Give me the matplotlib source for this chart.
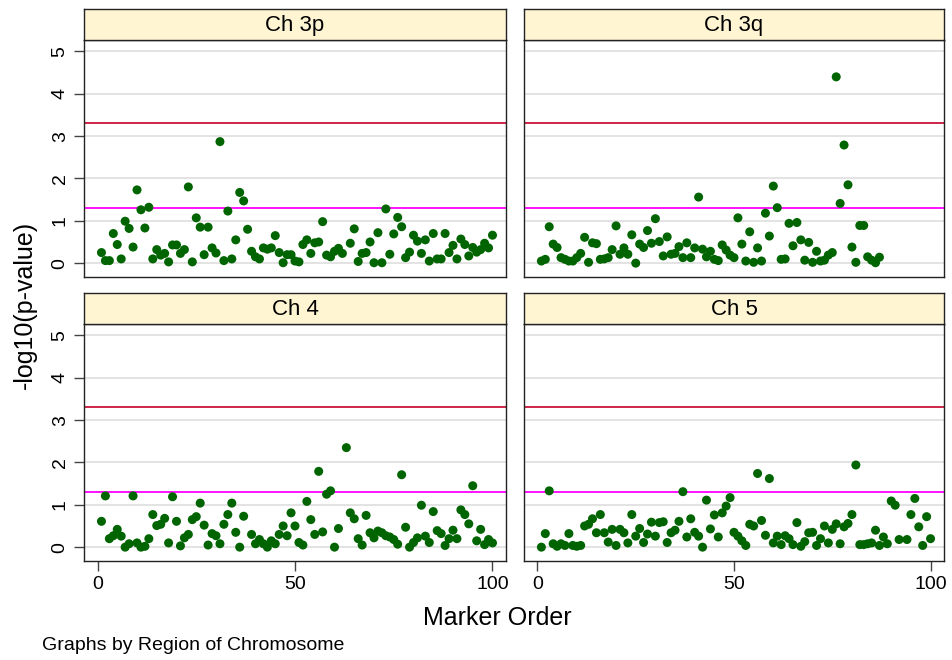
import numpy as np
import matplotlib.pyplot as plt

# -log10(p-value) per marker, nan = not visible
ch3p = [0.25, 0.06, 0.06, 0.70, 0.44, 0.10, 0.99, 0.82, 0.38, 1.73,
        1.26, 0.83, 1.32, 0.10, 0.32, 0.19, 0.23, 0.03, 0.43, 0.43,
        0.23, 0.32, 1.80, 0.03, 1.07, 0.85, 0.20, 0.85, 0.36, 0.24,
        2.87, 0.06, 1.23, 0.10, 0.55, 1.67, 1.47, 0.80, 0.28, 0.15,
        0.10, 0.36, 0.33, 0.36, 0.65, 0.25, 0.01, 0.20, 0.20, 0.05,
        0.03, 0.44, 0.55, 0.23, 0.48, 0.50, 0.98, 0.19, 0.15, 0.28,
        0.35, 0.23, np.nan, 0.47, 0.81, 0.04, 0.23, 0.25, 0.50, 0.01,
        0.72, 0.01, 1.28, 0.21, 0.69, 1.08, 0.86, 0.13, 0.26, 0.66,
        0.52, 0.23, 0.55, 0.05, 0.70, 0.10, 0.10, 0.70, 0.25, 0.42,
        0.10, 0.57, 0.44, 0.17, 0.37, 0.26, 0.32, 0.47, 0.36, 0.66]

ch3q = [0.05, 0.09, 0.86, 0.45, 0.37, 0.13, 0.09, 0.05, 0.05, 0.13,
        0.23, 0.61, 0.02, 0.48, 0.46, 0.09, 0.10, 0.13, 0.32, 0.88,
        0.21, 0.36, 0.21, 0.67, 0.00, 0.45, 0.37, 0.77, 0.47, 1.05,
        0.51, 0.17, 0.62, 0.21, 0.23, 0.39, 0.13, 0.48, 0.13, 0.36,
        1.56, 0.33, 0.15, 0.28, 0.09, 0.06, 0.43, 0.31, 0.19, 0.13,
        1.07, 0.45, 0.05, 0.74, 0.02, 0.36, 0.05, 1.18, 0.64, 1.82,
        1.31, 0.09, 0.10, 0.94, 0.41, 0.96, 0.55, 0.07, 0.49, 0.02,
        0.28, 0.05, 0.07, 0.19, 0.25, 4.40, 1.41, 2.79, 1.85, 0.38,
        0.02, 0.89, 0.89, 0.15, 0.07, 0.01, 0.14]

ch4 = [0.61, 1.21, 0.20, 0.27, 0.42, 0.26, 0.00, 0.08, 1.21, 0.10,
       0.00, 0.02, 0.20, 0.77, 0.51, 0.54, 0.68, 0.10, 1.19, 0.61,
       0.03, 0.22, 0.30, 0.65, 0.72, 1.04, 0.52, 0.05, 0.32, 0.27,
       0.08, 0.54, 0.77, 1.04, 0.35, 0.00, 0.73, np.nan, 0.30, 0.08,
       0.18, 0.08, 0.00, 0.15, 0.08, 0.30, 0.50, 0.27, 0.81, 0.50,
       0.11, 0.05, 1.08, 0.65, 0.30, 1.79, 0.36, 1.25, 1.33, 0.00,
       0.44, np.nan, 2.35, 0.81, 0.67, 0.20, 0.05, 0.75, 0.34, 0.22,
       0.38, 0.34, 0.27, 0.24, 0.18, 0.07, 1.71, 0.47, 0.00, 0.11,
       0.22, 0.99, 0.26, 0.11, 0.84, 0.39, 0.32, 0.04, 0.20, 0.40,
       0.20, 0.88, 0.77, 0.55, 1.45, 0.15, 0.42, 0.06, 0.18, 0.10]

ch5 = [0.00, 0.32, 1.33, 0.08, 0.02, 0.08, 0.04, 0.32, 0.04, 0.02,
       0.04, 0.50, 0.54, 0.67, 0.34, 0.77, 0.34, 0.12, 0.42, 0.04,
       0.42, 0.34, 0.10, 0.77, 0.26, 0.44, 0.11, 0.31, 0.59, 0.26,
       0.58, 0.60, 0.11, 0.34, 0.40, 0.61, 1.31, 0.24, 0.67, 0.35,
       0.26, 0.00, 1.11, 0.43, 0.76, 0.24, 0.81, 0.97, 1.17, 0.35,
       0.26, 0.15, 0.04, 0.54, 0.50, 1.74, 0.63, 0.28, 1.62, 0.10,
       0.26, 0.06, 0.27, 0.20, 0.06, 0.58, 0.02, 0.13, 0.34, 0.35,
       0.04, 0.20, 0.50, 0.10, 0.42, 0.55, 0.08, 0.48, 0.56, 0.77,
       1.94, 0.06, 0.06, 0.08, 0.10, 0.40, 0.04, 0.24, 0.08, 1.09,
       0.99, 0.18, np.nan, 0.18, 0.77, 1.15, 0.48, 0.04, 0.72, 0.20]

regions = ['Ch 3p', 'Ch 3q', 'Ch 4', 'Ch 5']
panel_data = [ch3p, ch3q, ch4, ch5]
sig_lines = [3.3, 1.3]   # -log10(0.0005), -log10(0.05)
sig_colors = ['#c8143c', '#ff00ff']

plt.rcParams['font.family'] = ['Liberation Sans', 'DejaVu Sans']

W, H = 953, 660
fig = plt.figure(figsize=(W / 100, H / 100), dpi=100)

def box(x0, y0, x1, y1):
    # pixel box (top-down) -> figure fraction rect
    return [x0 / W, 1 - y1 / H, (x1 - x0) / W, (y1 - y0) / H]

cols = [(84, 506), (524, 944)]
rows = [(9, 40, 276.7), (293.3, 324, 560.7)]

for i, (name, vals) in enumerate(zip(regions, panel_data)):
    r, c = divmod(i, 2)
    x0, x1 = cols[c]
    s0, s1, p1 = rows[r]

    ax = fig.add_axes(box(x0, s1, x1, p1))
    xs = np.arange(1, len(vals) + 1)
    for yv in range(6):
        ax.axhline(yv, color='#e1e1e1', lw=1.3, zorder=0)
    for yv, col in zip(sig_lines, sig_colors):
        ax.axhline(yv, color=col, lw=1.3, zorder=1)
    ax.scatter(xs, vals, s=42, color='#006400', edgecolors='none', zorder=3)
    ax.set_xlim(-3.42, 103.42)
    ax.set_ylim(-0.32, 5.27)
    ax.set_xticks([0, 50, 100])
    ax.set_yticks(range(6))
    ax.tick_params(axis='both', length=7, width=1, color='#444444',
                   labelsize=14, pad=4)
    if r == 0:
        ax.tick_params(axis='x', bottom=False, labelbottom=False)
    if c == 1:
        ax.tick_params(axis='y', left=False, labelleft=False)
    for lab in ax.get_yticklabels():
        lab.set_rotation(90)
        lab.set_va('center')
    for sp in ax.spines.values():
        sp.set_linewidth(1.0)
        sp.set_color('#222222')

    st = fig.add_axes(box(x0, s0, x1, s1))
    st.set_facecolor('#fff5d2')
    st.set_xticks([])
    st.set_yticks([])
    for sp in st.spines.values():
        sp.set_linewidth(1.0)
        sp.set_color('#222222')
    st.text(0.5, 0.46, name, ha='center', va='center', fontsize=16,
            transform=st.transAxes)

fig.text(25 / W, 1 - 305 / H, '-log10(p-value)', rotation=90,
         ha='center', va='center', fontsize=18)
fig.text(497 / W, 1 - 618 / H, 'Marker Order', ha='center', va='center',
         fontsize=18)
fig.text(42 / W, 1 - 646 / H, 'Graphs by Region of Chromosome',
         ha='left', va='center', fontsize=14)

fig.savefig('out.png', dpi=100)
